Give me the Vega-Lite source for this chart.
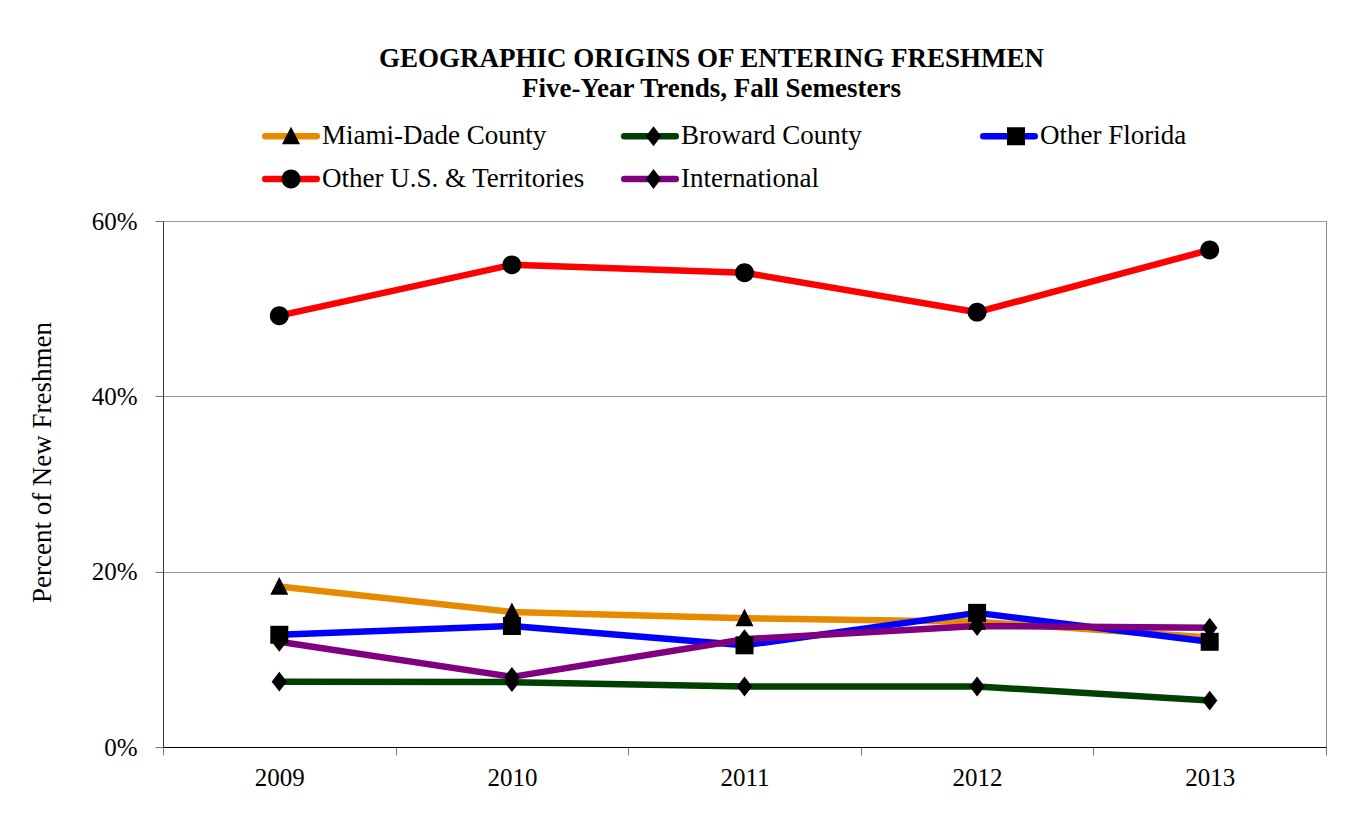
{
  "$schema": "https://vega.github.io/schema/vega-lite/v6.json",
  "width": 1163,
  "height": 526,
  "autosize": {"type": "none"},
  "padding": {"left": 163, "top": 221, "right": 29, "bottom": 80},
  "background": "white",
  "title": {
    "text": "GEOGRAPHIC ORIGINS OF ENTERING FRESHMEN",
    "subtitle": "Five-Year Trends, Fall Semesters",
    "font": "Liberation Serif",
    "fontSize": 27,
    "fontWeight": "bold",
    "color": "black",
    "subtitleFont": "Liberation Serif",
    "subtitleFontSize": 27,
    "subtitleFontWeight": "bold",
    "subtitleColor": "black",
    "subtitlePadding": 3,
    "anchor": "middle",
    "frame": "group",
    "dx": -33,
    "offset": 20
  },
  "config": {
    "view": {"stroke": "#888888", "strokeWidth": 1},
    "font": "Liberation Serif"
  },
  "data": {
    "values": [
      {"year": 2009, "series": "Miami-Dade County", "value": 0.183},
      {"year": 2010, "series": "Miami-Dade County", "value": 0.154},
      {"year": 2011, "series": "Miami-Dade County", "value": 0.147},
      {"year": 2012, "series": "Miami-Dade County", "value": 0.143},
      {"year": 2013, "series": "Miami-Dade County", "value": 0.125},
      {"year": 2009, "series": "Broward County", "value": 0.0745},
      {"year": 2010, "series": "Broward County", "value": 0.074},
      {"year": 2011, "series": "Broward County", "value": 0.069},
      {"year": 2012, "series": "Broward County", "value": 0.069},
      {"year": 2013, "series": "Broward County", "value": 0.053},
      {"year": 2009, "series": "Other Florida", "value": 0.128},
      {"year": 2010, "series": "Other Florida", "value": 0.138},
      {"year": 2011, "series": "Other Florida", "value": 0.116},
      {"year": 2012, "series": "Other Florida", "value": 0.153},
      {"year": 2013, "series": "Other Florida", "value": 0.12},
      {"year": 2009, "series": "Other U.S. & Territories", "value": 0.492},
      {"year": 2010, "series": "Other U.S. & Territories", "value": 0.55},
      {"year": 2011, "series": "Other U.S. & Territories", "value": 0.541},
      {"year": 2012, "series": "Other U.S. & Territories", "value": 0.496},
      {"year": 2013, "series": "Other U.S. & Territories", "value": 0.567},
      {"year": 2009, "series": "International", "value": 0.12},
      {"year": 2010, "series": "International", "value": 0.08},
      {"year": 2011, "series": "International", "value": 0.123},
      {"year": 2012, "series": "International", "value": 0.138},
      {"year": 2013, "series": "International", "value": 0.136}
    ]
  },
  "encoding": {
    "x": {
      "field": "year",
      "type": "ordinal",
      "scale": {"type": "band", "paddingInner": 0, "paddingOuter": 0},
      "axis": {
        "title": null,
        "labelAngle": 0,
        "tickBand": "extent",
        "tickSize": 8,
        "tickColor": "#777777",
        "domainColor": "black",
        "labelFont": "Liberation Serif",
        "labelFontSize": 25,
        "labelColor": "black",
        "labelPadding": 10,
        "grid": false
      }
    },
    "y": {
      "field": "value",
      "type": "quantitative",
      "scale": {"domain": [0, 0.6], "nice": false},
      "axis": {
        "values": [0, 0.2, 0.4, 0.6],
        "format": ".0%",
        "title": "Percent of New Freshmen",
        "titleFont": "Liberation Serif",
        "titleFontSize": 27,
        "titleFontWeight": "normal",
        "titleColor": "black",
        "titlePadding": 35,
        "titleY": 241,
        "labelFont": "Liberation Serif",
        "labelFontSize": 25,
        "labelColor": "black",
        "labelPadding": 18,
        "tickSize": 8,
        "tickColor": "#777777",
        "domainColor": "#333333",
        "grid": true,
        "gridColor": "#999999",
        "gridWidth": 1
      }
    }
  },
  "layer": [
    {
      "mark": {"type": "line", "strokeWidth": 6.5, "strokeCap": "round", "strokeJoin": "round"},
      "encoding": {
        "color": {
          "field": "series",
          "type": "nominal",
          "scale": {
            "domain": ["Miami-Dade County", "Broward County", "Other Florida", "Other U.S. & Territories", "International"],
            "range": ["#E68A00", "#004000", "#0000FF", "#FF0000", "#800080"]
          },
          "legend": {
            "title": null,
            "orient": "none",
            "legendX": 99,
            "legendY": -98.5,
            "direction": "horizontal",
            "columns": 3,
            "gridAlign": "all",
            "columnPadding": 26,
            "rowPadding": 15,
            "padding": 0,
            "symbolType": "M-5.72,0L5.72,0",
            "symbolSize": 81,
            "symbolStrokeWidth": 6.5,
            "symbolOffset": 15.5,
            "labelOffset": 17.5,
            "labelFont": "Liberation Serif",
            "labelFontSize": 27,
            "labelColor": "black",
            "labelLimit": 400,
            "encode": {"symbols": {"update": {"strokeCap": {"value": "round"}, "fill": {"value": "transparent"}}}}
          }
        }
      }
    },
    {
      "mark": {"type": "point", "filled": true, "fill": "black", "stroke": "black", "strokeWidth": 0, "opacity": 1, "size": 324},
      "encoding": {
        "shape": {
          "field": "series",
          "type": "nominal",
          "sort": ["Miami-Dade County", "Broward County", "Other Florida", "Other U.S. & Territories", "International"],
          "scale": {
            "range": [
              "M-3.2,0M0,-1.05L1,0.9L-1,0.9Z",
              "M-3.2,0M0,-1.1L0.85,0L0,1.1L-0.85,0Z",
              "M-3.2,0M-1,-1L1,-1L1,1L-1,1Z",
              "M-3.2,0M1.05,0A1.05,1.05,0,1,1,-1.05,0A1.05,1.05,0,1,1,1.05,0Z",
              "M-3.2,0M0,-1.1L0.85,0L0,1.1L-0.85,0Z"
            ]
          },
          "legend": {
            "title": null,
            "orient": "none",
            "legendX": 99,
            "legendY": -98.5,
            "direction": "horizontal",
            "columns": 3,
            "gridAlign": "all",
            "columnPadding": 302.5,
            "rowPadding": 15,
            "padding": 0,
            "symbolSize": 324,
            "symbolStrokeWidth": 0,
            "symbolFillColor": "black",
            "symbolOpacity": 1,
            "symbolOffset": 15.5,
            "labelOffset": 17.5,
            "labelFont": "Liberation Serif",
            "labelFontSize": 27,
            "labelExpr": "''",
            "labelLimit": 400
          }
        }
      }
    }
  ]
}
